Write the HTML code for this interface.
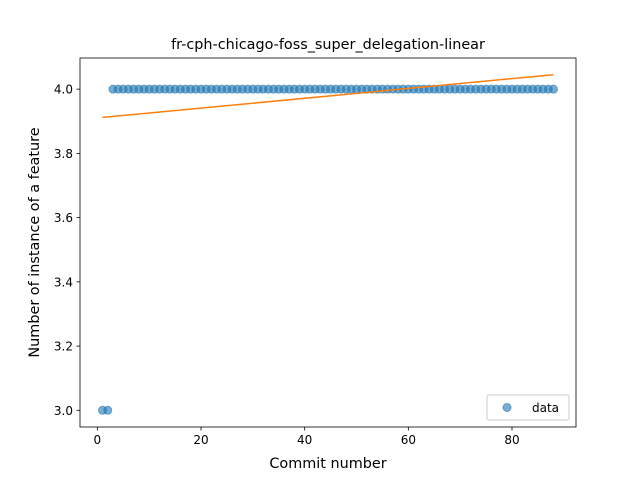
<!DOCTYPE html>
<html><head><meta charset="utf-8"><style>
body{margin:0;background:#fff;font-family:"DejaVu Sans","Liberation Sans",sans-serif}
</style></head><body>
<svg id="chart" width="640" height="480" xmlns="http://www.w3.org/2000/svg">
<rect width="640" height="480" fill="#fff"/>
<text x="328" y="49" text-anchor="middle" font-size="14.4">fr-cph-chicago-foss_super_delegation-linear</text>
<g id="plot"></g>
<rect x="80" y="58" width="496" height="369" fill="none" stroke="#000" stroke-width="0.8"/>
<text x="328" y="468" text-anchor="middle" font-size="14.4">Commit number</text>
<text transform="translate(39,242.5) rotate(-90)" text-anchor="middle" font-size="14.4">Number of instance of a feature</text>
<g>
<rect x="487" y="395" width="82" height="25" rx="2" fill="#fff" stroke="#ccc"/>
<circle cx="507" cy="407.5" r="4" fill="#1f77b4" fill-opacity="0.6" stroke="#1f77b4" stroke-opacity="0.6"/>
<text x="532" y="412" font-size="12">data</text>
</g>
</svg>
<script>
const xValues = [];
for (let i = 1; i <= 88; i++) xValues.push(i);
const yValues = [3,3,4,4,4,4,4,4,4,4,4,4,4,4,4,4,4,4,4,4,4,4,4,4,4,4,4,4,4,4,4,4,4,4,4,4,4,4,4,4,4,4,4,4,4,4,4,4,4,4,4,4,4,4,4,4,4,4,4,4,4,4,4,4,4,4,4,4,4,4,4,4,4,4,4,4,4,4,4,4,4,4,4,4,4,4,4,4];
const fitX = [1, 88];
const fitY = [3.912, 4.045];
const xTicks = [0,20,40,60,80];
const yTicks = [3.0,3.2,3.4,3.6,3.8,4.0];

const L=80,R=576,T=58,B=427;
const xMin=-3.35,xMax=92.35,yMin=2.948,yMax=4.097;
const sx=v=>L+(v-xMin)/(xMax-xMin)*(R-L);
const sy=v=>B-(v-yMin)/(yMax-yMin)*(B-T);
const NS="http://www.w3.org/2000/svg";
const g=document.getElementById('plot');
function mk(t,a){const e=document.createElementNS(NS,t);for(const k in a)e.setAttribute(k,a[k]);g.appendChild(e);return e;}

xTicks.forEach(v=>{
  const t=mk('line',{x1:sx(v),x2:sx(v),y1:B,y2:B+3.5,stroke:'#000','stroke-width':0.8});
  
  
  const l=mk('text',{x:sx(v),y:B+17,'text-anchor':'middle','font-size':12});
  l.textContent=String(v);
  
  
});
yTicks.forEach(v=>{
  const t=mk('line',{x1:L-3.5,x2:L,y1:sy(v),y2:sy(v),stroke:'#000','stroke-width':0.8});
  
  
  const l=mk('text',{x:L-7,y:sy(v)+4.5,'text-anchor':'end','font-size':12});
  l.textContent=v.toFixed(1);
  
  
});
xValues.forEach((x,i)=>{
  const c=mk('circle',{cx:sx(x),cy:sy(yValues[i]),r:4,fill:'#1f77b4','fill-opacity':0.6,stroke:'#1f77b4','stroke-opacity':0.6});
  
  
});
const ln=mk('line',{x1:sx(fitX[0]),y1:sy(fitY[0]),x2:sx(fitX[1]),y2:sy(fitY[1]),stroke:'#ff7f0e','stroke-width':1.5});


</script>
</body></html>
